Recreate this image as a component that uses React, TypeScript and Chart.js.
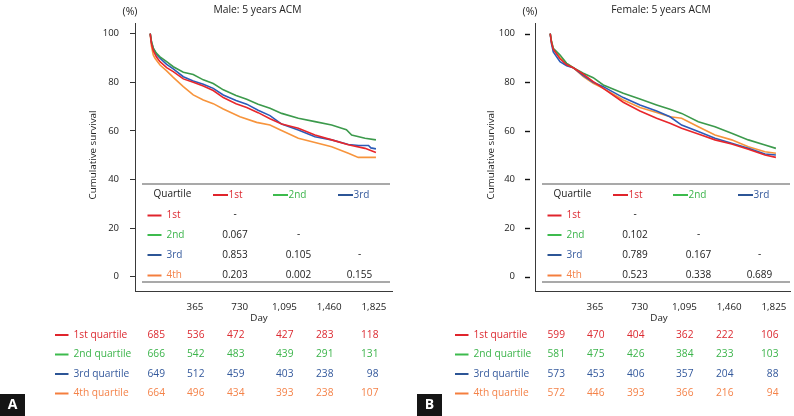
import React, { useEffect, useRef } from "react";
import { Chart, registerables } from "chart.js";

Chart.register(...registerables);

// ---------------- data ----------------
const dayTicks = [365, 730, 1095, 1460, 1825];
const survivalTicks = [0, 20, 40, 60, 80, 100];
const quartiles = ["1st", "2nd", "3rd", "4th"];
const riskLabels = ["1st quartile", "2nd quartile", "3rd quartile", "4th quartile"];

// Male (panel A)
const male1Days = [0, 10, 25, 50, 80, 134, 188, 270, 351, 433, 514, 596, 700, 787, 880, 977, 1072, 1208, 1344, 1480, 1616, 1752, 1841];
const male1Surv = [100, 96, 93, 90.5, 88.5, 86, 84.4, 81.4, 80, 78.5, 76.6, 73.7, 71.2, 69.6, 67.5, 65, 62.8, 61.1, 58.3, 56.3, 54.3, 52.8, 51.1];
const male2Days = [0, 10, 25, 50, 80, 134, 188, 270, 351, 433, 514, 596, 700, 787, 880, 977, 1072, 1208, 1344, 1480, 1562, 1600, 1643, 1752, 1841];
const male2Surv = [100, 97, 94, 92, 90.5, 88.5, 86.4, 84.1, 83.2, 81, 79.5, 76.9, 74.6, 73, 71, 69.3, 67.2, 65.2, 63.8, 62.4, 61.1, 60.5, 58.3, 57, 56.3];
const male3Days = [0, 10, 25, 50, 80, 134, 188, 270, 351, 433, 514, 596, 700, 787, 880, 977, 1072, 1208, 1344, 1480, 1616, 1700, 1780, 1800, 1841];
const male3Surv = [100, 96.5, 94, 91.5, 89.9, 87.4, 85.5, 82.3, 80.5, 79.2, 77.5, 74.8, 72.5, 71, 68.5, 66.3, 62.8, 60.4, 57.6, 56.3, 54.4, 54, 54, 53, 52.6];
const male4Days = [0, 10, 25, 39, 80, 134, 188, 270, 351, 433, 514, 596, 732, 868, 977, 1058, 1208, 1344, 1480, 1616, 1697, 1841];
const male4Surv = [100, 95, 91.2, 89.9, 87.1, 84.7, 82, 78.2, 74.8, 72.7, 71.2, 69, 65.8, 63.5, 62.4, 60.5, 57, 55.2, 53.5, 50.8, 49.1, 49.1];

const maleP2 = ["0.067"];
const maleP3 = ["0.853", "0.105"];
const maleP4 = ["0.203", "0.002", "0.155"];

const maleRisk1 = [685, 536, 472, 427, 283, 118];
const maleRisk2 = [666, 542, 483, 439, 291, 131];
const maleRisk3 = [649, 512, 459, 403, 238, 98];
const maleRisk4 = [664, 496, 434, 393, 238, 107];

// Female (panel B)
const femaleDays = [0, 10, 25, 80, 134, 188, 270, 351, 433, 596, 732, 868, 977, 1072, 1208, 1344, 1480, 1616, 1752, 1841];
const female1Surv = [100, 96.5, 93.6, 89.7, 87.2, 86, 83.3, 80.3, 77.5, 71.8, 68.2, 65.2, 63.1, 61.1, 58.7, 56.3, 54.6, 52.4, 50.1, 49.1];
const female2Surv = [100, 97, 94, 91.2, 87.8, 86, 83.7, 81.9, 78.9, 75.5, 73.1, 70.7, 68.9, 67.2, 63.8, 61.7, 59, 56.3, 54.2, 52.8];
const female3Surv = [100, 96, 92.5, 88.5, 86.8, 86, 82.7, 80, 78.2, 73.7, 70.7, 68.2, 65.8, 62.4, 59.7, 57, 54.9, 52.8, 50.5, 50.1];
const female4Surv = [100, 97, 93.6, 90.1, 87.8, 86, 82.3, 79.6, 77.5, 72.7, 69.6, 67.6, 65.8, 65.2, 61.7, 58.3, 56.3, 53.5, 51.4, 50.8];

const femaleP2 = ["0.102"];
const femaleP3 = ["0.789", "0.167"];
const femaleP4 = ["0.523", "0.338", "0.689"];

const femaleRisk1 = [599, 470, 404, 362, 222, 106];
const femaleRisk2 = [581, 475, 426, 384, 233, 103];
const femaleRisk3 = [573, 453, 406, 357, 204, 88];
const femaleRisk4 = [572, 446, 393, 366, 216, 94];

// ---------------- style ----------------
const FONT = '"Open Sans", "DejaVu Sans", sans-serif';
const curveColors = ["#e8262b", "#3c9a4c", "#2c5bb8", "#f7943c"];
const markerColors = ["#e0242c", "#3dbb4d", "#2c5596", "#f47e3e"];
const textColors = ["#dc2a31", "#3cb44b", "#34599c", "#f4834a"];
const inkColor = "#222222";

type PanelSpec = {
  title: string;
  letter: string;
  series: { days: number[]; surv: number[] }[];
  pRows: string[][];
  risk: number[][];
  width: number;
  rightPad: number;
  xMax: number;
  titleX: number;
  yTitleX: number;
  letterX: number;
  gapTicks: boolean;
};

const malePanel: PanelSpec = {
  title: "Male: 5 years ACM",
  letter: "A",
  series: [
    { days: male1Days, surv: male1Surv },
    { days: male2Days, surv: male2Surv },
    { days: male3Days, surv: male3Surv },
    { days: male4Days, surv: male4Surv },
  ],
  pRows: [[], maleP2, maleP3, maleP4],
  risk: [maleRisk1, maleRisk2, maleRisk3, maleRisk4],
  width: 400,
  rightPad: 8,
  xMax: 1972,
  titleX: 257.5,
  yTitleX: 93,
  letterX: 0,
  gapTicks: false,
};

const femalePanel: PanelSpec = {
  title: "Female: 5 years ACM",
  letter: "B",
  series: [
    { days: femaleDays, surv: female1Surv },
    { days: femaleDays, surv: female2Surv },
    { days: femaleDays, surv: female3Surv },
    { days: femaleDays, surv: female4Surv },
  ],
  pRows: [[], femaleP2, femaleP3, femaleP4],
  risk: [femaleRisk1, femaleRisk2, femaleRisk3, femaleRisk4],
  width: 394,
  rightPad: 4,
  xMax: 1956,
  titleX: 261,
  yTitleX: 91,
  letterX: 17,
  gapTicks: true,
};

function drawText(
  ctx: CanvasRenderingContext2D,
  s: string,
  x: number,
  y: number,
  size: number,
  color: string,
  align: CanvasTextAlign = "left",
  weight = "normal"
) {
  ctx.font = `${weight} ${size}px ${FONT}`;
  ctx.fillStyle = color;
  ctx.textAlign = align;
  ctx.textBaseline = "middle";
  ctx.fillText(s, x, y);
}

function seg(ctx: CanvasRenderingContext2D, x1: number, y1: number, x2: number, y2: number, color: string, w: number) {
  ctx.beginPath();
  ctx.strokeStyle = color;
  ctx.lineWidth = w;
  ctx.moveTo(x1, y1);
  ctx.lineTo(x2, y2);
  ctx.stroke();
}

function buildPanel(canvas: HTMLCanvasElement, p: PanelSpec): Chart {
  const datasets = p.series.map((s, i) => ({
    label: quartiles[i],
    data: s.days.map((d, k) => ({ x: d, y: s.surv[k] })),
    borderColor: curveColors[i],
    backgroundColor: curveColors[i],
    borderWidth: 1.6,
    pointRadius: 0,
    fill: false,
    tension: 0,
  }));

  const decor = {
    id: "kmDecor" + p.letter,
    afterDraw(chart: Chart) {
      const ctx = chart.ctx;
      const yScale: any = chart.scales.y;
      ctx.save();
      // detached tick marks (panel B style)
      if (p.gapTicks) {
        const ax = chart.chartArea.left;
        survivalTicks.forEach((v) => {
          const py = Math.round(yScale.getPixelForValue(v)) + 0.5;
          seg(ctx, ax - 10, py, ax - 5, py, "#111111", 1.4);
        });
      }
      // titles
      drawText(ctx, p.title, p.titleX, 10, 10.3, inkColor, "center");
      drawText(ctx, "(%)", 130, 12, 10.5, inkColor, "center");
      ctx.save();
      ctx.translate(p.yTitleX, 155);
      ctx.rotate(-Math.PI / 2);
      drawText(ctx, "Cumulative survival", 0, 0, 9.8, inkColor, "center");
      ctx.restore();
      drawText(ctx, "Day", 259, 318, 9.8, inkColor, "center");

      // inner p-value table
      seg(ctx, 142, 184, 390, 184, "#8c8c8c", 1.5);
      seg(ctx, 142, 282, 390, 282, "#8c8c8c", 1.5);
      drawText(ctx, "Quartile", 153.5, 194, 10, inkColor, "left");
      const headX = [213, 273, 338];
      for (let i = 0; i < 3; i++) {
        seg(ctx, headX[i], 195, headX[i] + 15, 195, markerColors[i], 2);
        drawText(ctx, quartiles[i], headX[i] + 15.5, 195, 10, textColors[i], "left");
      }
      const rowY = [215.5, 235, 255, 275.5];
      const colX = [235, 298.5, 359.5];
      for (let r = 0; r < 4; r++) {
        seg(ctx, 147.5, rowY[r], 161.5, rowY[r], markerColors[r], 2);
        drawText(ctx, quartiles[r], 166.5, rowY[r], 10, textColors[r], "left");
        const vals = p.pRows[r];
        for (let c = 0; c < vals.length; c++) {
          drawText(ctx, vals[c], colX[c], rowY[r], 10, inkColor, "center");
        }
        if (r < 3) drawText(ctx, "-", colX[r], rowY[r] - 1, 10, inkColor, "center");
      }

      // number at risk table
      const riskY = [335, 354.5, 374, 393.5];
      const riskRight = [165, 204.5, 244.5, 293.5, 333.5, 378.5];
      for (let r = 0; r < 4; r++) {
        seg(ctx, 55, riskY[r], 68.5, riskY[r], markerColors[r], 2);
        drawText(ctx, riskLabels[r], 73.5, riskY[r], 10.2, textColors[r], "left");
        p.risk[r].forEach((v, c) => {
          drawText(ctx, String(v), riskRight[c], riskY[r], 10.2, textColors[r], "right");
        });
      }

      // panel letter
      ctx.fillStyle = "#151515";
      ctx.fillRect(p.letterX, 394, 25, 22);
      drawText(ctx, p.letter, p.letterX + 12.5, 405.5, 14, "#ffffff", "center", "bold");
      ctx.restore();
    },
  };

  return new Chart(canvas, {
    type: "line",
    data: { datasets },
    options: {
      animation: false,
      responsive: false,
      devicePixelRatio: 1,
      layout: { padding: { top: 23, right: p.rightPad, bottom: 0, left: 0 } },
      plugins: {
        legend: { display: false },
        tooltip: { enabled: false },
        title: { display: false },
      },
      scales: {
        x: {
          type: "linear",
          min: -124,
          max: p.xMax,
          afterFit: (s: any) => {
            s.height = 125;
          },
          afterBuildTicks: (s: any) => {
            s.ticks = dayTicks.map((v) => ({ value: v }));
          },
          grid: { display: false },
          border: { display: true, color: "#3a3a3a", width: 1 },
          ticks: {
            padding: 2,
            autoSkip: false,
            maxRotation: 0,
            color: inkColor,
            font: { family: FONT, size: 9.8 },
            callback: (v: any) => Number(v).toLocaleString("en-US"),
          },
        },
        y: {
          type: "linear",
          min: -5.9,
          max: 104.4,
          afterFit: (s: any) => {
            s.width = 135;
          },
          afterBuildTicks: (s: any) => {
            s.ticks = survivalTicks.map((v) => ({ value: v }));
          },
          grid: {
            display: true,
            drawOnChartArea: false,
            drawTicks: true,
            tickLength: p.gapTicks ? 10 : 5,
            tickColor: p.gapTicks ? "rgba(0,0,0,0)" : "#333333",
            tickWidth: 1,
          },
          border: { display: true, color: "#3a3a3a", width: 1 },
          ticks: {
            padding: p.gapTicks ? 10 : 11,
            color: inkColor,
            font: { family: FONT, size: 9.5 },
          },
        },
      },
    } as any,
    plugins: [decor as any],
  });
}

export default function App() {
  const refA = useRef<HTMLCanvasElement>(null);
  const refB = useRef<HTMLCanvasElement>(null);

  useEffect(() => {
    document.body.style.margin = "0";
    Chart.defaults.font.family = FONT;
    const a = buildPanel(refA.current as HTMLCanvasElement, malePanel);
    const b = buildPanel(refB.current as HTMLCanvasElement, femalePanel);
    return () => {
      a.destroy();
      b.destroy();
    };
  }, []);

  return (
    <div style={{ position: "fixed", left: 0, top: 0, width: 794, height: 416, background: "#ffffff" }}>
      <canvas
        ref={refA}
        width={malePanel.width}
        height={416}
        style={{ position: "absolute", left: 0, top: 0, width: malePanel.width, height: 416 }}
      />
      <canvas
        ref={refB}
        width={femalePanel.width}
        height={416}
        style={{ position: "absolute", left: 400, top: 0, width: femalePanel.width, height: 416 }}
      />
    </div>
  );
}
